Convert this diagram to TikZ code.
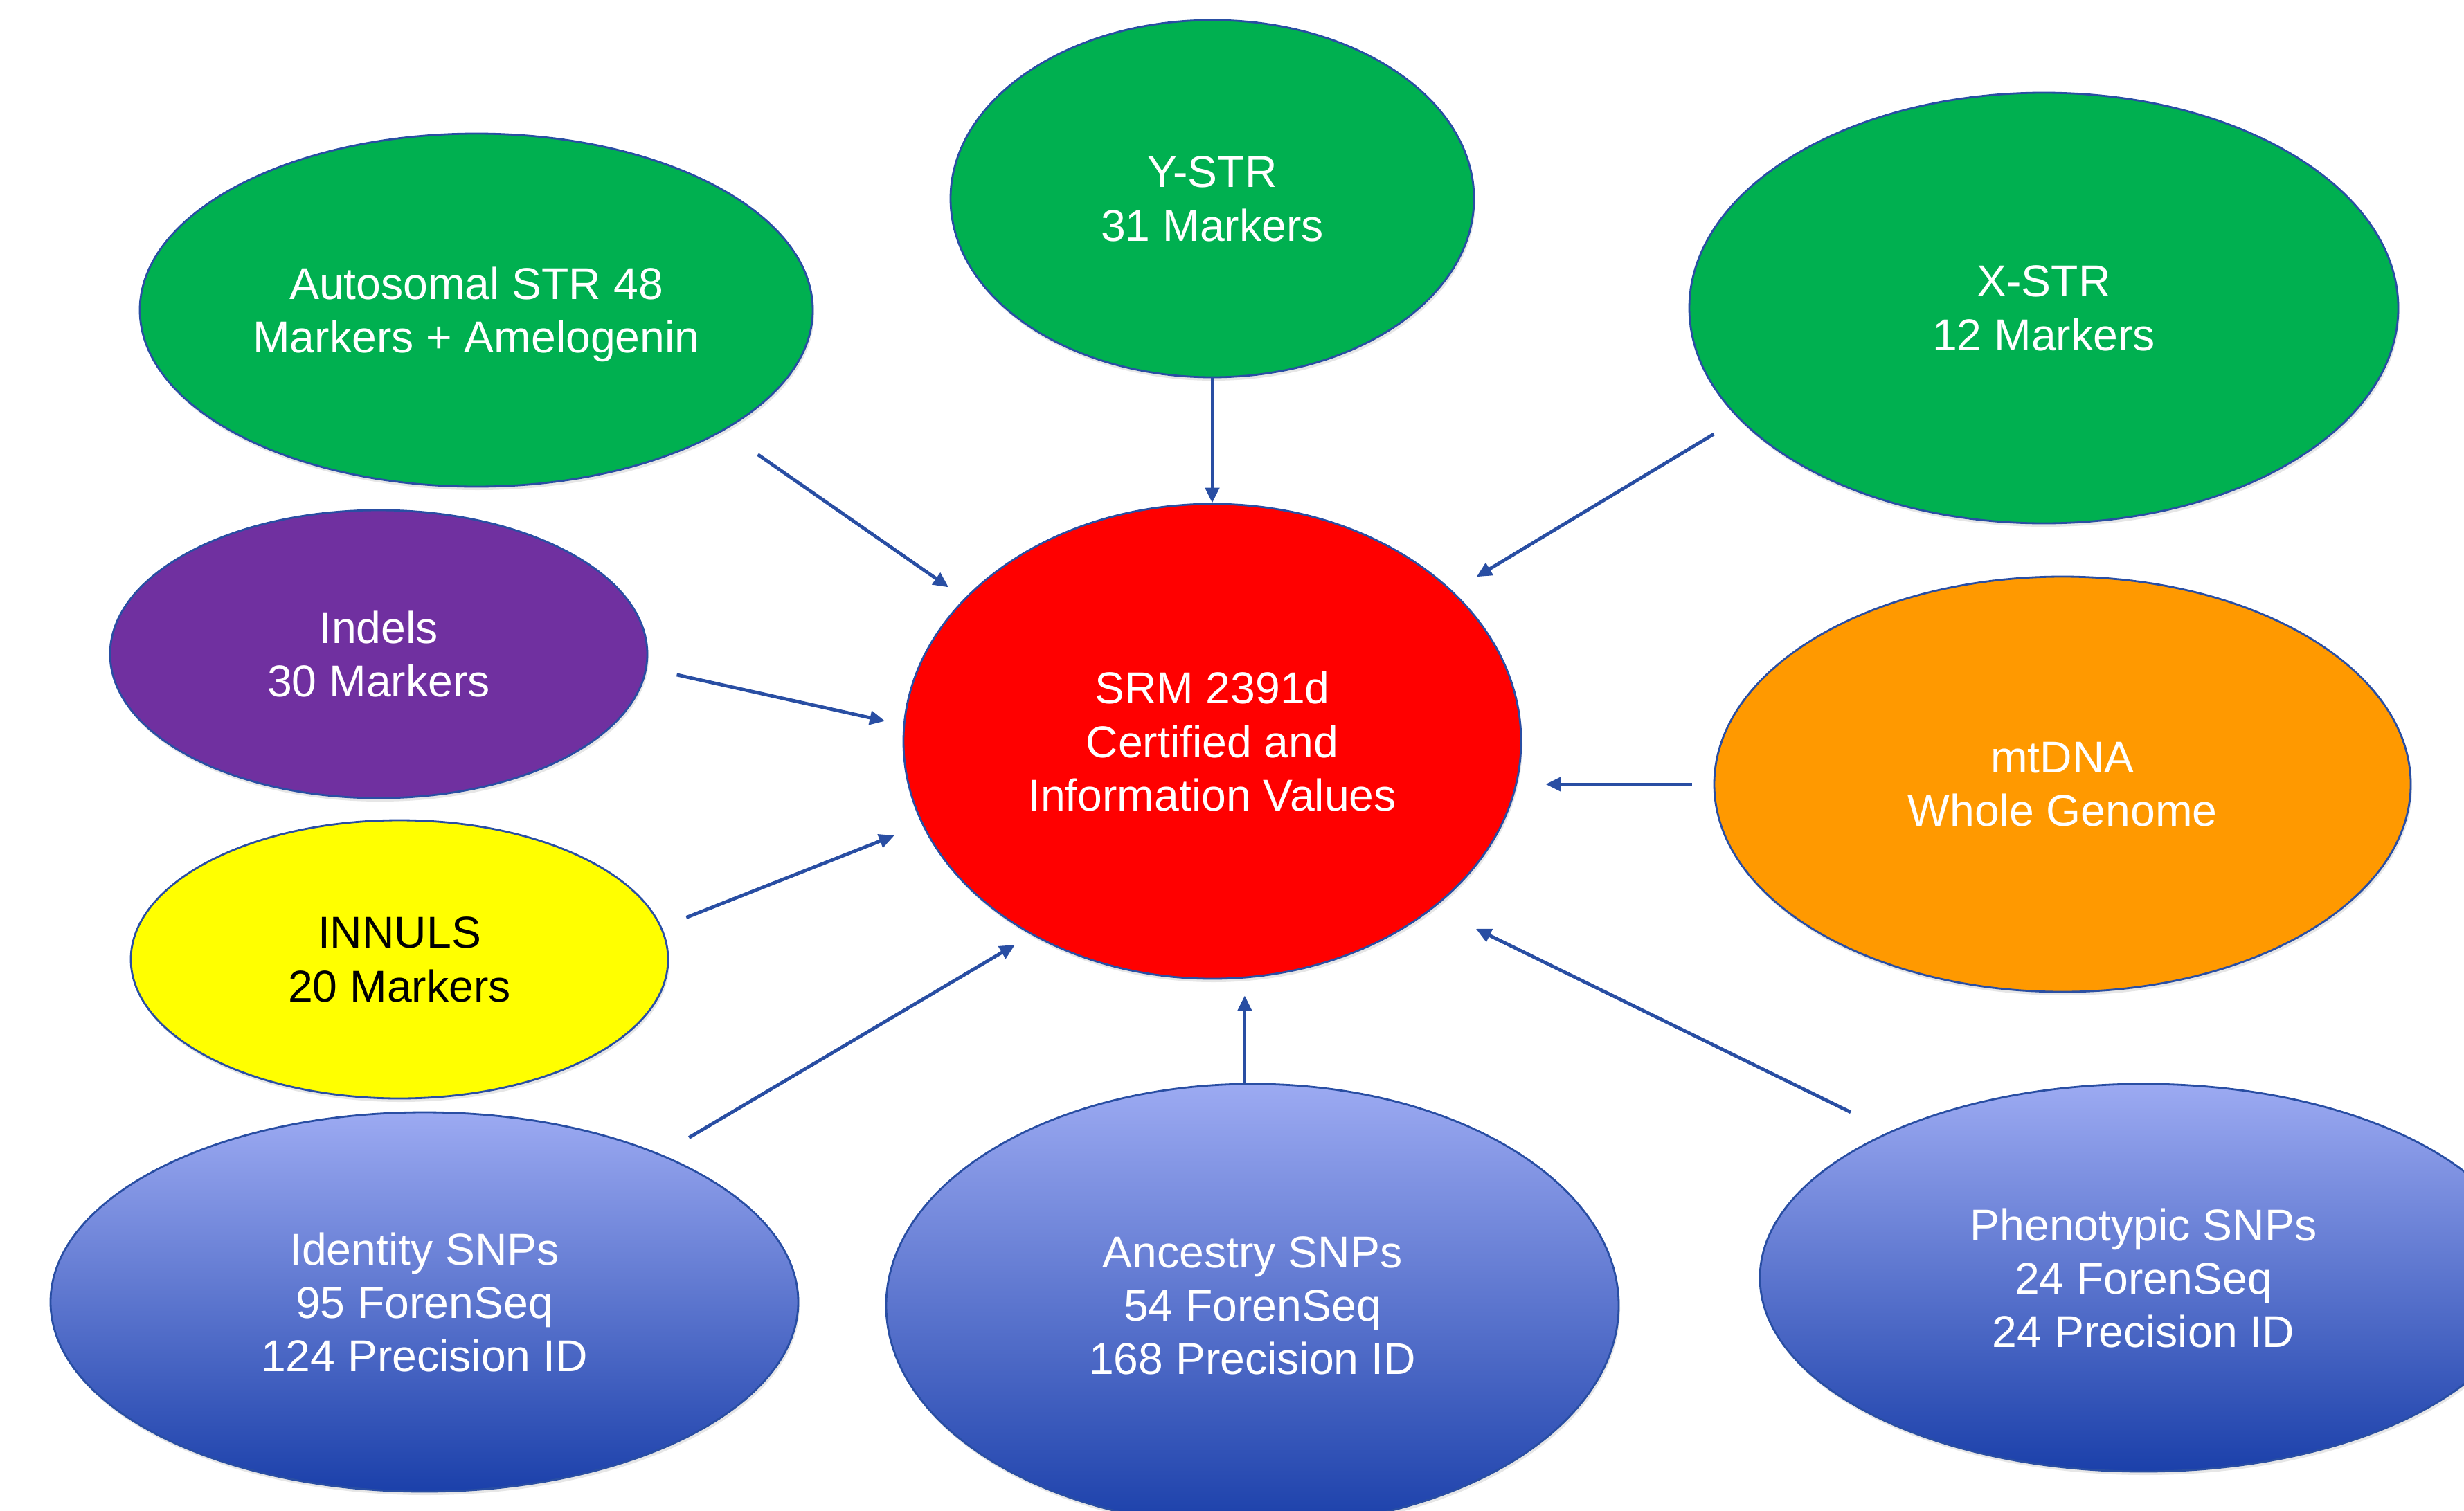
\documentclass[tikz,border=0pt]{standalone}
\usepackage{fontspec}
\setmainfont{Liberation Sans}
\usepackage{tikz}
\usetikzlibrary{shapes.geometric,arrows.meta,shadows}
\usepackage{xcolor}
\definecolor{LineBlue}{RGB}{41,78,163}
\definecolor{StrGreen}{RGB}{0,176,80}
\definecolor{IndelPurple}{RGB}{112,48,160}
\definecolor{InnulYellow}{RGB}{255,255,0}
\definecolor{MitoOrange}{RGB}{255,153,0}
\definecolor{SrmRed}{RGB}{255,0,0}
\definecolor{SnpTop}{RGB}{156,170,242}
\definecolor{SnpBottom}{RGB}{27,64,170}

\begin{document}
\begin{tikzpicture}[
  every node/.style={font=\fontsize{18.3}{22}\selectfont},
  markerbox/.style={ellipse, draw=LineBlue, line width=0.8pt, align=center, inner sep=0pt, text depth=0pt, text=white, drop shadow={opacity=0.2, shadow xshift=0.02cm, shadow yshift=-0.05cm}},
  snpbox/.style={markerbox, top color=SnpTop, bottom color=SnpBottom},
  arrow/.style={-{Triangle[length=0.22cm,width=0.2cm]}, line width=1.4pt, LineBlue}
]
\useasboundingbox (0,0) rectangle (35.59,-21.82);
\clip (0,0) rectangle (35.59,-21.82);

\node[markerbox, fill=SrmRed, minimum width=8.92cm, minimum height=6.86cm] (srm) at (17.51,-10.71) {SRM 2391d\\Certified and\\Information Values};
\node[markerbox, fill=StrGreen, minimum width=7.56cm, minimum height=5.16cm] (ystr) at (17.51,-2.87) {Y-STR\\31 Markers};
\node[markerbox, fill=StrGreen, minimum width=9.72cm, minimum height=5.10cm] (autostr) at (6.88,-4.48) {Autosomal STR 48\\Markers + Amelogenin};
\node[markerbox, fill=StrGreen, minimum width=10.24cm, minimum height=6.22cm] (xstr) at (29.52,-4.45) {X-STR\\12 Markers};
\node[markerbox, fill=IndelPurple, minimum width=7.76cm, minimum height=4.16cm] (indels) at (5.47,-9.45) {Indels\\30 Markers};
\node[markerbox, fill=InnulYellow, text=black, minimum width=7.76cm, minimum height=4.02cm] (innuls) at (5.77,-13.86) {INNULS\\20 Markers};
\node[markerbox, fill=MitoOrange, minimum width=10.06cm, minimum height=6.0cm] (mtdna) at (29.79,-11.33) {mtDNA\\Whole Genome};
\node[snpbox, minimum width=10.80cm, minimum height=5.48cm] (identity) at (6.13,-18.81) {Identity SNPs\\95 ForenSeq\\124 Precision ID};
\node[snpbox, minimum width=10.58cm, minimum height=6.40cm] (ancestry) at (18.09,-18.86) {Ancestry SNPs\\54 ForenSeq\\168 Precision ID};
\node[snpbox, minimum width=11.08cm, minimum height=5.60cm] (pheno) at (30.96,-18.46) {Phenotypic SNPs\\24 ForenSeq\\24 Precision ID};

\draw[arrow, shorten <=0.6cm, shorten >=0.28cm] (autostr.-26) -- (srm.150);
\draw[arrow] (ystr.south) -- (srm.north);
\draw[arrow, shorten <=0.42cm, shorten >=0.4cm] (xstr.200) -- (srm.32);
\draw[arrow, shorten <=0.44cm, shorten >=0.27cm] (indels.-3) -- (srm.177);
\draw[arrow, shorten <=0.38cm, shorten >=0.43cm] (innuls.7) -- (srm.196);
\draw[arrow, shorten <=0.47cm, shorten >=0.28cm] (identity.32) -- (srm.227);
\draw[arrow, shorten >=0.23cm] (ancestry.92) -- (ancestry.92 |- srm.south);
\draw[arrow, shorten <=0.63cm, shorten >=0.68cm] (pheno.150) -- (srm.-37);
\draw[arrow, shorten <=0.31cm, shorten >=0.34cm] (mtdna.west) -- (mtdna.west -| srm.east);
\end{tikzpicture}
\end{document}
